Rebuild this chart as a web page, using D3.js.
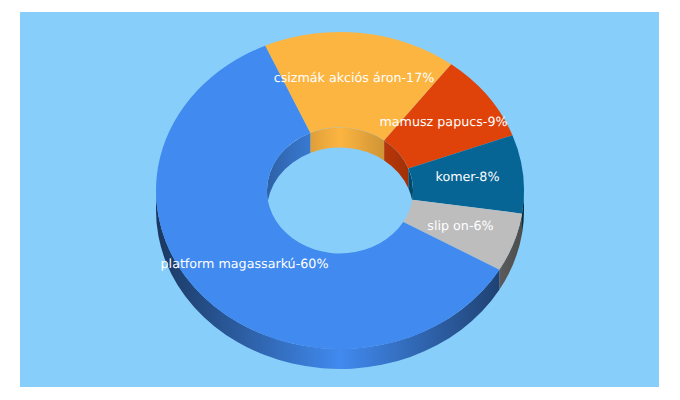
<!DOCTYPE html>
<html>
<head>
<meta charset="utf-8">
<script src="https://cdn.jsdelivr.net/npm/d3@7"></script>
<style>
  html, body { margin: 0; padding: 0; background: #fff; }
  svg { display: block; }
  text { font-family: "DejaVu Sans", sans-serif; font-size: 12.7px; fill: #fff; text-rendering: geometricPrecision; }
</style>
</head>
<body>
<svg id="chart" width="680" height="400"></svg>
<script>
const categories = ["csizmák akciós áron", "mamusz papucs", "komer", "slip on", "platform magassarkú"];
const shares = [17, 9, 8, 6, 60];
const colors = ["#fdb541", "#e0430a", "#066594", "#bdbdbd", "#418aef"];
const labelAnchors = [[354, 79], [443.5, 123], [467.5, 178], [460.5, 227], [244.5, 265]];

const cx = 340, cy = 190.5, rx = 184, ry = 158.5, depth = 20;
const innerRatio = 0.397;
const yScale = ry / rx;
const startDeg = -24;

const svg = d3.select("#chart");
const defs = svg.append("defs");

svg.append("rect")
  .attr("x", 20).attr("y", 12)
  .attr("width", 639).attr("height", 375)
  .attr("fill", "#87cefa");

const pie = d3.pie()
  .sort(null)
  .startAngle(startDeg * Math.PI / 180)
  .endAngle((startDeg + 360) * Math.PI / 180);
const slices = pie(shares);

// horizontal shading for the walls, bright in the middle and dark at the sides
function shade(id, base, x0, x1, amount) {
  const g = defs.append("linearGradient")
    .attr("id", id)
    .attr("gradientUnits", "userSpaceOnUse")
    .attr("x1", x0).attr("x2", x1).attr("y1", 0).attr("y2", 0);
  const dark = d3.interpolateRgb(base, "#000")(amount);
  g.append("stop").attr("offset", 0).attr("stop-color", dark);
  g.append("stop").attr("offset", 0.5).attr("stop-color", base);
  g.append("stop").attr("offset", 1).attr("stop-color", dark);
}
colors.forEach((c, i) => {
  shade("outer" + i, c, cx - rx, cx + rx, 0.6);
  shade("inner" + i, c, cx - rx * innerRatio, cx + rx * innerRatio, 0.3);
});

function pt(r, a) {
  return [cx + r * Math.sin(a), cy - r * yScale * Math.cos(a)];
}

// wall band between an arc on the top face and the same arc shifted down
function wall(r, a0, a1) {
  const [x0, y0] = pt(r, a0);
  const [x1, y1] = pt(r, a1);
  const ery = r * yScale;
  const large = a1 - a0 > Math.PI ? 1 : 0;
  return `M${x0},${y0}A${r},${ery} 0 ${large} 1 ${x1},${y1}` +
    `L${x1},${y1 + depth}A${r},${ery} 0 ${large} 0 ${x0},${y0 + depth}Z`;
}

// clip of the top hole, the back wall only shows inside it
const inner = rx * innerRatio;
defs.append("clipPath").attr("id", "hole")
  .append("ellipse")
  .attr("cx", cx).attr("cy", cy)
  .attr("rx", inner).attr("ry", inner * yScale);

// outer wall, front half only
const wallLayer = svg.append("g");
slices.forEach((d, i) => {
  const a0 = Math.max(d.startAngle, Math.PI / 2);
  const a1 = Math.min(d.endAngle, Math.PI * 1.5);
  if (a1 > a0) {
    wallLayer.append("path").attr("d", wall(rx, a0, a1)).attr("fill", `url(#outer${i})`);
  }
});

// top face
const arc = d3.arc().outerRadius(rx).innerRadius(inner);
svg.append("g")
  .attr("transform", `translate(${cx},${cy}) scale(1,${yScale})`)
  .selectAll("path")
  .data(slices)
  .join("path")
  .attr("d", arc)
  .attr("fill", (d, i) => colors[i]);

// inner wall, back half only
const innerLayer = svg.append("g").attr("clip-path", "url(#hole)");
slices.forEach((d, i) => {
  [0, 2 * Math.PI].forEach(turn => {
    const a0 = Math.max(d.startAngle + turn, 1.5 * Math.PI);
    const a1 = Math.min(d.endAngle + turn, 2.5 * Math.PI);
    if (a1 > a0) {
      innerLayer.append("path").attr("d", wall(inner, a0, a1)).attr("fill", `url(#inner${i})`);
    }
  });
});

svg.append("g")
  .selectAll("text")
  .data(categories)
  .join("text")
  .attr("x", (d, i) => labelAnchors[i][0])
  .attr("y", (d, i) => labelAnchors[i][1])
  .attr("text-anchor", "middle")
  .attr("dominant-baseline", "middle")
  .text((d, i) => `${d}-${shares[i]}%`);
</script>
</body>
</html>
